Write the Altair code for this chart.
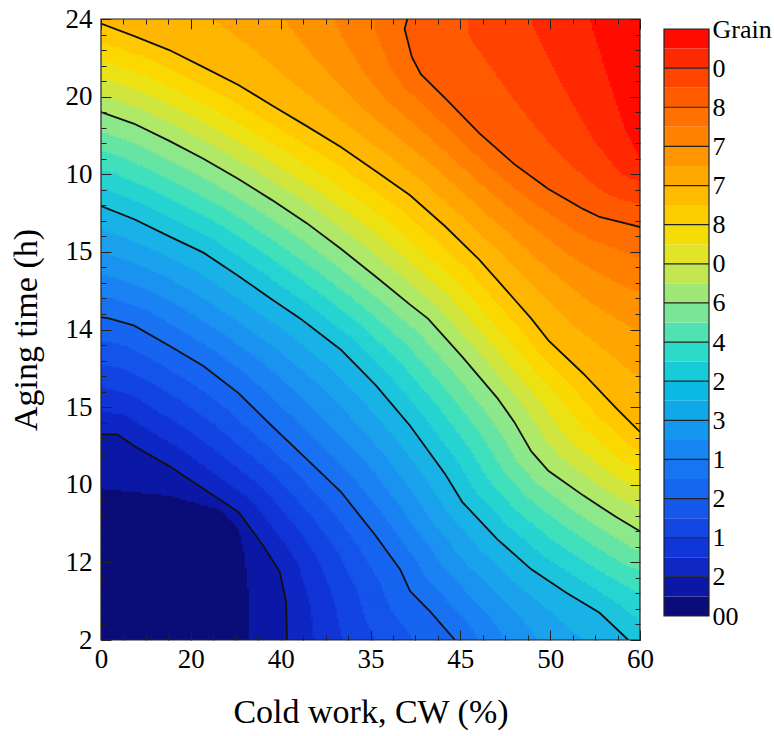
import altair as alt
import numpy as np
import pandas as pd

# ---- printed tick labels -------------------------------------------------
X_TICK_LABELS = ["0", "20", "40", "35", "45", "50", "60"]
Y_TICK_LABELS = ["24", "20", "10", "15", "14", "15", "10", "12", "2"]          # top -> bottom
CB_LABELS = ["Grain", "0", "8", "7", "7", "8", "0", "6", "4", "2", "3", "1",
             "2", "1", "2", "00"]                                               # top -> bottom

# ---- iso-lines of the grain field (axis index units: x 0..6, y 0..8) -----
CORE_LEVEL = 1
CORE_X = [0.0, 0.76, 1.34, 1.53, 1.60, 1.64, 1.64]
CORE_Y = [1.95, 1.86, 1.67, 1.43, 1.07, 0.59, 0.0]

F_LEVEL = 2
F_X = [0.0, 0.18, 0.37, 0.76, 1.14, 1.53, 1.79, 1.99, 2.06, 2.07]
F_Y = [2.65, 2.65, 2.50, 2.24, 1.95, 1.65, 1.24, 0.88, 0.49, 0.0]

E_LEVEL = 7
E_X = [0.0, 0.10, 0.37, 0.76, 1.14, 1.53, 1.90, 2.29, 2.67, 3.06, 3.33, 3.44, 3.67, 3.94]
E_Y = [4.16, 4.14, 4.05, 3.79, 3.53, 3.18, 2.76, 2.33, 1.91, 1.34, 0.91, 0.63, 0.36, 0.0]

D_LEVEL = 12
D_X = [0.0, 0.37, 0.76, 1.14, 1.53, 1.90, 2.22, 2.67, 3.06, 3.44, 3.83, 4.02, 4.41,
       4.79, 5.18, 5.55, 5.87]
D_Y = [5.59, 5.42, 5.20, 4.99, 4.69, 4.39, 4.14, 3.74, 3.28, 2.76, 2.14, 1.78, 1.30,
       0.91, 0.61, 0.35, 0.0]

C_LEVEL = 17
C_X = [0.0, 0.37, 0.76, 1.14, 1.53, 1.90, 2.29, 2.67, 3.06, 3.44, 3.64, 4.02, 4.41,
       4.60, 4.79, 4.98, 5.37, 5.74, 6.0]
C_Y = [6.80, 6.65, 6.43, 6.20, 5.94, 5.67, 5.37, 5.04, 4.68, 4.32, 4.14, 3.65, 3.12,
       2.81, 2.43, 2.18, 1.86, 1.58, 1.40]

B_LEVEL = 22
B_X = [0.0, 0.37, 0.76, 1.14, 1.53, 1.90, 2.29, 2.67, 3.06, 3.44, 3.83, 4.21, 4.60,
       4.79, 4.98, 5.37, 5.74, 6.0]
B_Y = [7.94, 7.78, 7.60, 7.38, 7.15, 6.89, 6.62, 6.35, 6.04, 5.73, 5.33, 4.90, 4.39,
       4.14, 3.86, 3.43, 2.98, 2.68]

A_LEVEL = 27
A_X = [3.41, 3.38, 3.46, 3.56, 3.83, 4.21, 4.60, 4.98, 5.37, 5.55, 5.83, 6.0]
A_Y = [8.0, 7.87, 7.51, 7.29, 6.98, 6.53, 6.13, 5.81, 5.55, 5.45, 5.37, 5.32]

TOP_LEVEL = 30
TOP_X = [5.44, 5.61, 5.83, 6.0]
TOP_Y = [8.0, 7.36, 6.58, 6.20]

# colour of each grain level 0..30
LEVEL_COLORS = [
    "#0a0c78", "#0b18a6", "#0e26c4", "#1034d6", "#1244e2", "#1454ea", "#1664f0",
    "#1872f2", "#1a82f2", "#1a92f0", "#1aa2ec", "#18b2e6", "#1cc4dc", "#26d4d2",
    "#40e0bc", "#66e4a4", "#8ce88a", "#b0e868", "#d0e63e", "#ece214", "#fad800",
    "#ffc800", "#ffb600", "#ffa400", "#ff9200", "#ff8000", "#ff6e00", "#ff5a00",
    "#ff4200", "#ff2800", "#ff0c00",
]

ISO = [  # (level, xs, ys, drawn as black contour)
    (CORE_LEVEL, CORE_X, CORE_Y, False),
    (F_LEVEL, F_X, F_Y, True),
    (E_LEVEL, E_X, E_Y, True),
    (D_LEVEL, D_X, D_Y, True),
    (C_LEVEL, C_X, C_Y, True),
    (B_LEVEL, B_X, B_Y, True),
    (A_LEVEL, A_X, A_Y, True),
    (TOP_LEVEL, TOP_X, TOP_Y, False),
]

X_MAX, Y_MAX = 6, 8
PLOT_W, PLOT_H = 539, 621
FONT = "Liberation Serif"
SX, SY = PLOT_W / X_MAX, PLOT_H / Y_MAX


def polyline_distance(px, py, xs, ys):
    xs = np.asarray(xs) * SX
    ys = np.asarray(ys) * SY
    d = np.full(px.shape, np.inf)
    for i in range(len(xs) - 1):
        ax, ay = xs[i], ys[i]
        vx, vy = xs[i + 1] - ax, ys[i + 1] - ay
        t = np.clip(((px - ax) * vx + (py - ay) * vy) / (vx * vx + vy * vy), 0, 1)
        d = np.minimum(d, np.hypot(px - ax - t * vx, py - ay - t * vy))
    return d


def upper_region(xs, ys):
    """Polygon of the side of an iso-line that lies towards the top-right corner."""
    px, py = list(xs), list(ys)
    if ys[-1] <= 0:
        px.append(X_MAX); py.append(0)
    px.append(X_MAX); py.append(Y_MAX)
    if xs[0] <= 0:
        px.append(0); py.append(Y_MAX)
    return np.array(px), np.array(py)


def inside(x, y, polx, poly):
    res = np.zeros(x.shape, bool)
    j = len(polx) - 1
    for i in range(len(polx)):
        xi, yi, xj, yj = polx[i], poly[i], polx[j], poly[j]
        if yi != yj:
            cross = ((yi > y) != (yj > y)) & (x < (xj - xi) * (y - yi) / (yj - yi) + xi)
            res ^= cross
        j = i
    return res


# ---- grain level on a fine grid ------------------------------------------
NX, NY = 270, 310
dx, dy = X_MAX / NX, Y_MAX / NY
gx, gy = np.meshgrid((np.arange(NX) + 0.5) * dx, (np.arange(NY) + 0.5) * dy)

above = np.zeros(gx.shape, int)
dist = []
for lvl, xs, ys, _ in ISO:
    polx, poly = upper_region(xs, ys)
    above += inside(gx, gy, polx, poly)
    dist.append(polyline_distance(gx * SX, gy * SY, xs, ys))
dist = np.array(dist)
levels = np.array([iso[0] for iso in ISO], float)

value = np.zeros(gx.shape)
value[above == len(ISO)] = TOP_LEVEL
for k in range(1, len(ISO)):
    m = above == k
    lo, hi = levels[k - 1], levels[k]
    dl, dh = dist[k - 1][m], dist[k][m]
    value[m] = lo + (hi - lo) * dl / (dl + dh)
grain = np.clip(np.floor(value), 0, TOP_LEVEL).astype(int)

# run-length rows of equal level -> rectangles
runs = []
for r in range(NY):
    row = grain[r]
    start = 0
    for c in range(1, NX + 1):
        if c == NX or row[c] != row[start]:
            runs.append((start * dx, c * dx + 0.5 * dx, r * dy, (r + 1.5) * dy, int(row[start])))
            start = c
field = pd.DataFrame(runs, columns=["x0", "x1", "y0", "y1", "level"])

lines = pd.DataFrame(
    [(n, i, x, y) for n, (lvl, xs, ys, drawn) in enumerate(ISO) if drawn
     for i, (x, y) in enumerate(zip(xs, ys))],
    columns=["line", "idx", "x", "y"],
)

# ---- scales & axes -------------------------------------------------------
x_scale = alt.Scale(domain=[0, X_MAX], nice=False, zero=False)
y_scale = alt.Scale(domain=[0, Y_MAX], nice=False, zero=False)
color_scale = alt.Scale(type="linear", domain=list(range(TOP_LEVEL + 1)), range=LEVEL_COLORS)

x_expr = f"{X_TICK_LABELS}[round(datum.value)]"
y_expr = f"{Y_TICK_LABELS}[{Y_MAX} - round(datum.value)]"

tick_common = dict(domain=False, grid=False, tickColor="#222222", tickWidth=1, zindex=2)
x_minor = [i / 4 for i in range(X_MAX * 4 + 1) if i % 4]
y_minor = [i / 5 for i in range(Y_MAX * 5 + 1) if i % 5]

ax_bottom = alt.Axis(orient="bottom", values=list(range(X_MAX + 1)), labelExpr=x_expr,
                     tickSize=10, offset=-10, labelFont=FONT, labelFontSize=27,
                     labelColor="black", labelPadding=6, labelFlush=False, labelOverlap=False,
                     title="Cold work, CW (%)", titleFont=FONT, titleFontSize=34,
                     titleFontWeight="normal", titleColor="black", titlePadding=23,
                     **tick_common)
ax_left = alt.Axis(orient="left", values=list(range(Y_MAX + 1)), labelExpr=y_expr,
                   tickSize=10, offset=-10, labelFont=FONT, labelFontSize=27,
                   labelColor="black", labelPadding=9, labelFlush=False, labelOverlap=False,
                   title="Aging time (h)", titleFont=FONT, titleFontSize=34,
                   titleFontWeight="normal", titleColor="black", titlePadding=22,
                   **tick_common)


def tick_axis(orient, values, size):
    return alt.Axis(orient=orient, values=values, labels=False, title=None,
                    tickSize=size, offset=-size, **tick_common)


anchor = pd.DataFrame({"x": [0.0], "y": [0.0]})


def axis_layer(xa, ya):
    return alt.Chart(anchor).mark_point(opacity=0).encode(
        x=alt.X("x:Q", scale=x_scale, axis=xa),
        y=alt.Y("y:Q", scale=y_scale, axis=ya),
    )


heat = alt.Chart(field).mark_rect(clip=True).encode(
    x=alt.X("x0:Q", scale=x_scale, axis=ax_bottom),
    x2="x1:Q",
    y=alt.Y("y0:Q", scale=y_scale, axis=ax_left),
    y2="y1:Q",
    color=alt.Color("level:Q", scale=color_scale, legend=None),
)

contours = alt.Chart(lines).mark_line(clip=True, color="#111111", strokeWidth=1.8).encode(
    x=alt.X("x:Q", scale=x_scale, axis=None),
    y=alt.Y("y:Q", scale=y_scale, axis=None),
    detail="line:N",
    order="idx:Q",
)

frame_df = pd.DataFrame({"x0": [0], "x1": [X_MAX], "y0": [0], "y1": [Y_MAX]})
frame = alt.Chart(frame_df).mark_rect(fillOpacity=0, stroke="#222222", strokeWidth=1.2).encode(
    x=alt.X("x0:Q", scale=x_scale, axis=None), x2="x1:Q",
    y=alt.Y("y0:Q", scale=y_scale, axis=None), y2="y1:Q",
)

main = alt.layer(
    heat,
    contours,
    frame,
    axis_layer(tick_axis("bottom", x_minor, 5), tick_axis("left", y_minor, 5)),
    axis_layer(tick_axis("top", list(range(X_MAX + 1)), 10),
               tick_axis("right", list(range(Y_MAX + 1)), 10)),
    axis_layer(tick_axis("top", x_minor, 5), tick_axis("right", y_minor, 5)),
).resolve_axis(x="independent", y="independent").properties(width=PLOT_W, height=PLOT_H)

# ---- colour bar ----------------------------------------------------------
N_SEG = len(CB_LABELS) - 1
CB_W = 45
CB_TOP_GAP, CB_BOTTOM_GAP = 10, 24
seg_px = (PLOT_H - CB_TOP_GAP - CB_BOTTOM_GAP) / N_SEG
cb_y = alt.Scale(domain=[-CB_BOTTOM_GAP / seg_px, N_SEG + CB_TOP_GAP / seg_px],
                 nice=False, zero=False)
cb_x = alt.Scale(domain=[0, 1], nice=False, zero=False)

n_cells = 2 * N_SEG
cells = pd.DataFrame({
    "y0": [j * N_SEG / n_cells for j in range(n_cells)],
    "y1": [(j + 1) * N_SEG / n_cells for j in range(n_cells)],
    "v": [j * TOP_LEVEL / (n_cells - 1) for j in range(n_cells)],
    "x0": 0.0, "x1": 1.0,
})
cb_axis = alt.Axis(orient="right", values=list(range(N_SEG + 1)),
                   labelExpr=f"{CB_LABELS}[{N_SEG} - round(datum.value)]",
                   ticks=False, domain=False, grid=False, labelFont=FONT, labelFontSize=26,
                   labelColor="black", labelPadding=3, labelFlush=False, labelOverlap=False,
                   title=None, zindex=2)

cb_cells = alt.Chart(cells).mark_rect().encode(
    x=alt.X("x0:Q", scale=cb_x, axis=None), x2="x1:Q",
    y=alt.Y("y0:Q", scale=cb_y, axis=cb_axis), y2="y1:Q",
    color=alt.Color("v:Q", scale=color_scale, legend=None),
)
cb_seps = alt.Chart(pd.DataFrame({"y": list(range(1, N_SEG))})).mark_rule(
    color="#222222", strokeWidth=1.2).encode(y=alt.Y("y:Q", scale=cb_y, axis=None))
cb_frame = alt.Chart(pd.DataFrame({"x0": [0.0], "x1": [1.0], "y0": [0], "y1": [N_SEG]})).mark_rect(
    fillOpacity=0, stroke="#222222", strokeWidth=1.2).encode(
    x=alt.X("x0:Q", scale=cb_x, axis=None), x2="x1:Q",
    y=alt.Y("y0:Q", scale=cb_y, axis=None), y2="y1:Q",
)
colorbar = alt.layer(cb_cells, cb_seps, cb_frame).resolve_axis(
    x="independent", y="independent").properties(width=CB_W, height=PLOT_H)

chart = alt.hconcat(main, colorbar, spacing=8).properties(
    padding={"left": 8, "top": 4, "right": 0, "bottom": 0},
    background="white",
).configure(font=FONT).configure_view(stroke="transparent")

chart.save("out.html", embed_options={"renderer": "svg", "actions": False})
